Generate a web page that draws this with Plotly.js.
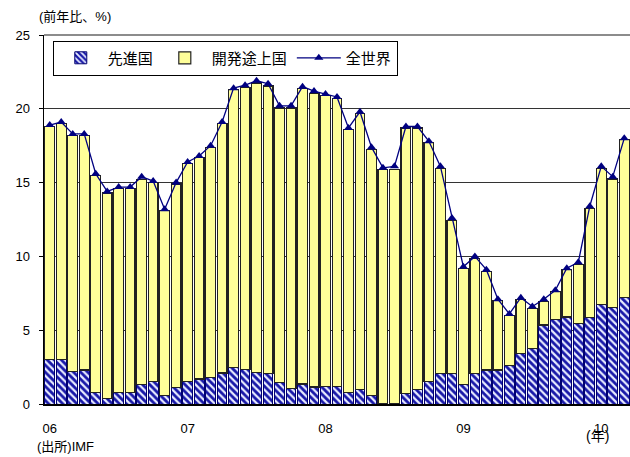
<!DOCTYPE html>
<html><head><meta charset="utf-8">
<script src="https://cdn.plot.ly/plotly-3.0.1.min.js"></script>
<style>html,body{margin:0;padding:0;background:#fff}#c{width:630px;height:457px}</style>
</head><body><div id="c"></div>
<script>
const months = [
'2006-01','2006-02','2006-03','2006-04','2006-05','2006-06','2006-07','2006-08','2006-09','2006-10','2006-11','2006-12',
'2007-01','2007-02','2007-03','2007-04','2007-05','2007-06','2007-07','2007-08','2007-09','2007-10','2007-11','2007-12',
'2008-01','2008-02','2008-03','2008-04','2008-05','2008-06','2008-07','2008-08','2008-09','2008-10','2008-11','2008-12',
'2009-01','2009-02','2009-03','2009-04','2009-05','2009-06','2009-07','2009-08','2009-09','2009-10','2009-11','2009-12',
'2010-01','2010-02','2010-03'];
const advanced = [
3.0,3.0,2.2,2.3,0.8,0.4,0.8,0.8,1.3,1.5,0.6,1.1,
1.5,1.7,1.8,2.1,2.5,2.35,2.15,2.05,1.45,1.05,1.35,1.15,
1.2,1.2,0.8,1.0,0.55,0.0,0.0,0.7,1.0,1.5,2.05,2.05,
1.3,2.05,2.3,2.3,2.6,3.4,3.75,5.35,5.7,5.9,5.45,5.85,
6.75,6.55,7.2];
const developing = [
15.8,16.0,16.0,15.9,14.7,13.9,13.8,13.8,13.9,13.5,12.5,13.8,
14.8,15.0,15.6,16.9,18.8,19.1,19.6,19.5,18.6,19.0,20.0,19.9,
19.7,19.5,17.8,18.7,16.7,15.9,15.9,18.0,17.7,16.2,13.9,10.4,
7.9,7.8,6.7,4.7,3.4,3.7,2.7,1.6,1.9,3.2,4.0,7.4,
9.2,8.7,10.7];
const world = [
18.9,19.1,18.3,18.3,15.6,14.4,14.7,14.7,15.4,15.1,13.2,15.0,
16.4,16.8,17.5,19.1,21.4,21.6,21.9,21.7,20.2,20.2,21.5,21.2,
21.0,20.8,18.7,19.8,17.4,16.0,16.1,18.8,18.8,17.8,16.1,12.6,
9.3,10.0,9.1,7.1,6.1,7.2,6.6,7.1,7.7,9.2,9.6,13.4,
16.1,15.4,18.0];
const yearTickVals = ['2006-01','2007-01','2008-01','2009-01','2010-01'];
const yearTickText = ['06','07','08','09','10'];
const names = ['先進国','開発途上国','全世界'];

const FONT = 'Liberation Sans, Arial, Noto Sans CJK JP, sans-serif';
const traces = [
  {type:'bar', name:names[0], x:months, y:advanced,
   marker:{color:'#000090', line:{color:'#000070', width:1},
     pattern:{shape:'\\', fgcolor:'#e8ecff', bgcolor:'#1818a8', size:5, solidity:0.45, fillmode:'replace'}}},
  {type:'bar', name:names[1], x:months, y:developing,
   marker:{color:'#ffff99', line:{color:'#222222', width:1.2}}},
  {type:'scatter', mode:'lines+markers', name:names[2], x:months, y:world,
   line:{color:'#000080', width:1.3},
   marker:{symbol:'triangle-up', size:8, color:'#000080'}}
];
const layout = {
  width:630, height:457,
  margin:{l:44, r:0, t:35, b:53},
  barmode:'stack', bargap:0.15,
  paper_bgcolor:'#fff', plot_bgcolor:'#fff',
  font:{family:FONT, size:13, color:'#000'},
  showlegend:true,
  legend:{orientation:'h', x:0.015, y:0.985, xanchor:'left', yanchor:'top',
    bgcolor:'#fff', bordercolor:'#000', borderwidth:1,
    font:{family:FONT, size:15}, itemwidth:44, traceorder:'normal', tracegroupgap:0},
  xaxis:{type:'category', tickvals:yearTickVals, ticktext:yearTickText,
    showline:true, linecolor:'#000', linewidth:1.5, showgrid:false, mirror:false,
    ticks:'outside', ticklen:12, tickcolor:'rgba(0,0,0,0)',
    tickfont:{family:FONT, size:13}, range:[-0.5,50.5], fixedrange:true},
  yaxis:{range:[0,25], dtick:5, tick0:0, showline:true, linecolor:'#000', linewidth:1.5,
    showgrid:true, gridcolor:'#333', gridwidth:1,
    ticks:'outside', ticklen:4, tickcolor:'#000', ticklabelstandoff:6,
    tickfont:{family:FONT, size:13}, zeroline:false},
  shapes:[
    {type:'line', xref:'paper', yref:'paper', x0:0, x1:1, y0:1, y1:1, line:{color:'#666', width:1.5}}
  ],
  annotations:[
    {text:'(前年比、%)', xref:'paper', yref:'paper', x:-0.012, y:1.049, xanchor:'left', yanchor:'middle',
     showarrow:false, font:{family:FONT, size:13}},
    {text:'(出所)IMF', xref:'paper', yref:'paper', x:-0.015, y:-0.1165, xanchor:'left', yanchor:'middle',
     showarrow:false, font:{family:FONT, size:13}},
    {text:'(年)', xref:'paper', yref:'paper', x:0.922, y:-0.087, xanchor:'left', yanchor:'middle',
     showarrow:false, font:{family:FONT, size:14}}
  ]
};
Plotly.newPlot('c', traces, layout, {displayModeBar:false, staticPlot:true});
</script></body></html>
